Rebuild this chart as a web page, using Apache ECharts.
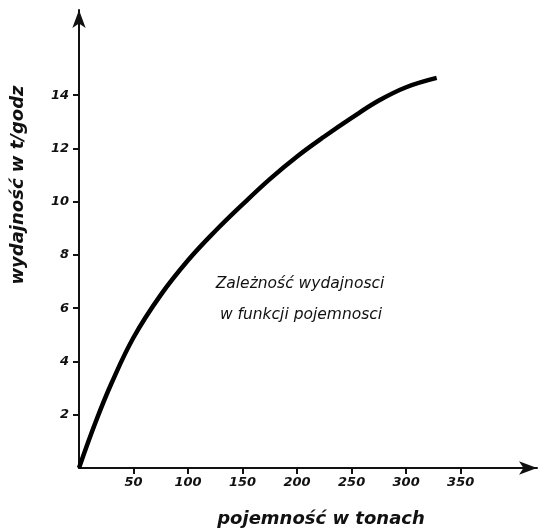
<!DOCTYPE html>
<html>
<head>
<meta charset="utf-8">
<script src="https://cdn.jsdelivr.net/npm/echarts@6/dist/echarts.min.js"></script>
<style>
  html, body { margin: 0; padding: 0; background: #fff; }
  #chart { width: 540px; height: 531px; }
</style>
</head>
<body>
<div id="chart"></div>
<script>
// capacity in tonnes vs output in t/h
const capacity = [0, 15, 30, 50, 75, 100, 125, 150, 175, 200, 225, 250, 275, 300, 328];
const output = [0, 1.7, 3.2, 4.9, 6.5, 7.8, 8.9, 9.9, 10.85, 11.7, 12.45, 13.15, 13.8, 14.3, 14.65];
const xTicks = [50, 100, 150, 200, 250, 300, 350];
const yTicks = [2, 4, 6, 8, 10, 12, 14];

const font = "DejaVu Sans";
const chart = echarts.init(document.getElementById("chart"));

chart.setOption({
  backgroundColor: "#fff",
  animation: false,
  grid: { left: 79, right: 3, top: 10, bottom: 63, outerBoundsMode: "none" },
  xAxis: {
    type: "value",
    min: 0,
    max: 420,
    name: "pojemność w tonach",
    nameLocation: "middle",
    nameGap: 42,
    nameTextStyle: {
      fontFamily: font, fontStyle: "italic", fontWeight: "bold", fontSize: 18, color: "#111",
      padding: [0, 0, 0, 26]
    },
    splitLine: { show: false },
    axisLine: { symbol: ["none", "arrow"], symbolSize: [10, 18], lineStyle: { color: "#111", width: 2 } },
    axisTick: { customValues: xTicks, length: 6, lineStyle: { color: "#111", width: 2 } },
    axisLabel: {
      customValues: xTicks,
      margin: 8,
      fontFamily: font, fontStyle: "italic", fontWeight: "bold", fontSize: 13, color: "#111"
    }
  },
  yAxis: {
    type: "value",
    min: 0,
    max: 17.2,
    splitLine: { show: false },
    axisLine: { symbol: ["none", "arrow"], symbolSize: [10, 18], lineStyle: { color: "#111", width: 2 } },
    axisTick: { customValues: yTicks, length: 6, lineStyle: { color: "#111", width: 2 } },
    axisLabel: {
      customValues: yTicks,
      margin: 10,
      fontFamily: font, fontStyle: "italic", fontWeight: "bold", fontSize: 13, color: "#111"
    }
  },
  series: [{
    type: "line",
    data: capacity.map((c, i) => [c, output[i]]),
    smooth: 0.4,
    showSymbol: false,
    lineStyle: { color: "#000", width: 4.5 }
  }],
  graphic: [
    {
      type: "text",
      x: 18, y: 185,
      rotation: Math.PI / 2,
      style: {
        text: "wydajność w t/godz",
        font: "italic bold 18px '" + font + "'",
        fill: "#111",
        align: "center",
        verticalAlign: "middle"
      }
    },
    {
      type: "text",
      x: 300, y: 284,
      style: {
        text: "Zależność wydajnosci",
        font: "italic 15.5px '" + font + "'",
        fill: "#111",
        align: "center",
        verticalAlign: "middle"
      }
    },
    {
      type: "text",
      x: 301, y: 315,
      style: {
        text: "w funkcji pojemnosci",
        font: "italic 15.5px '" + font + "'",
        fill: "#111",
        align: "center",
        verticalAlign: "middle"
      }
    }
  ]
});
</script>
</body>
</html>
